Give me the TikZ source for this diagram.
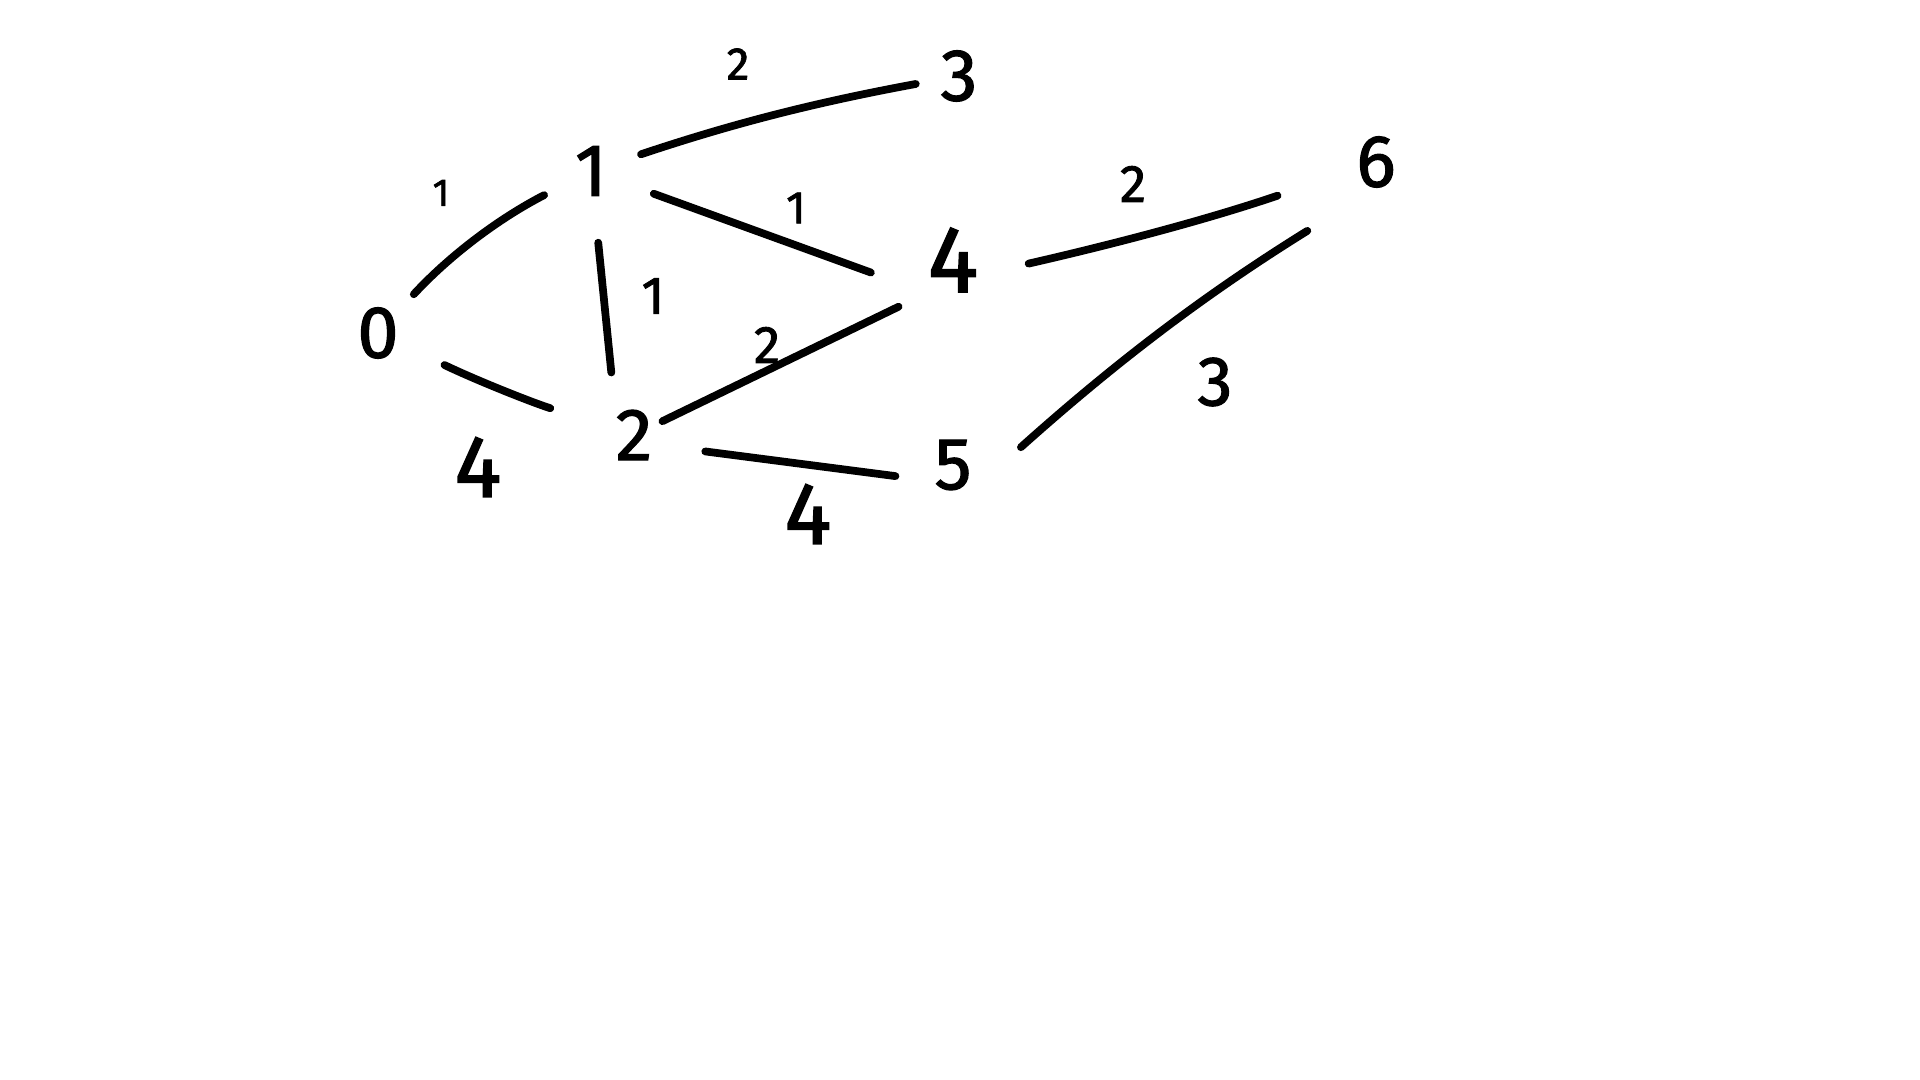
\documentclass[tikz,border=0pt]{standalone}
\usepackage{fontspec}
\newfontfamily\handfont{Fira Sans}[FakeBold=1.6]
\usetikzlibrary{positioning}

\tikzset{
  vertex/.style={inner sep=0pt, font=\handfont\fontsize{21}{21}\selectfont},
  weight/.style={inner sep=0pt, font=\handfont\fontsize{15}{15}\selectfont},
  bigw/.style={weight, font=\handfont\fontsize{25}{25}\selectfont},
  smallw/.style={weight, font=\handfont\fontsize{11}{11}\selectfont},
  edge/.style={line width=2.2pt, line cap=round}
}

\begin{document}
\begin{tikzpicture}
    \useasboundingbox (0,0) rectangle (19.2,10.8);

    % vertices
    \node[vertex] (n0) at (3.78,7.47) {0};
    \node[vertex] (n1) at (5.91,9.09) {1};
    \node[vertex] (n2) at (6.34,6.45) {2};
    \node[vertex] (n3) at (9.59,10.04) {3};
    \node[vertex, font=\handfont\fontsize{27}{27}\selectfont] (n4) at (9.53,8.20) {4};
    \node[vertex] (n5) at (9.53,6.15) {5};
    \node[vertex] (n6) at (13.76,9.18) {6};

    % edges
    \draw[edge, shorten <=15pt, shorten >=15pt] (n0.center) to[bend left=10] (n1.center);
    \draw[edge, shorten <=21pt, shorten >=25pt] (n0.center) to[bend right=4] (n2.center);
    \draw[edge, shorten <=15pt, shorten >=12.5pt] (n1.center) to[bend left=4] (n3.center);
    \draw[edge, shorten <=19pt, shorten >=17pt] (n1.center) -- (n4.south west);
    \draw[edge, shorten <=20.5pt, shorten >=10.5pt] (n1.center) -- (n2.north west);
    \draw[edge, shorten <=9pt, shorten >=9pt] (n2.center) -- (n4.south west);
    \draw[edge, shorten <=15pt, shorten >=11pt] (n2.-27) -- (n5.-140);
    \draw[edge, shorten <=14.5pt, shorten >=29.6pt] (n4.-30) to[bend right=3] (n6.center);
    \draw[edge, shorten <=18.6pt, shorten >=23pt] (n5.south east) to[bend left=5] (n6.south);

    % weights
    \node[smallw] (w01) at (4.41,8.87) {1};
    \node[bigw] (w02) at (4.78,6.13) {4};
    \node[weight, font=\handfont\fontsize{13}{13}\selectfont] (w13) at (7.38,10.16) {2};
    \node[weight, font=\handfont\fontsize{13}{13}\selectfont] (w14) at (7.96,8.72) {1};
    \node[weight] (w12) at (6.53,7.84) {1};
    \node[weight] (w24) at (7.67,7.35) {2};
    \node[bigw] (w25) at (8.08,5.66) {4};
    \node[weight] (w46) at (11.33,8.96) {2};
    \node[weight, font=\handfont\fontsize{20}{20}\selectfont] (w56) at (12.15,6.98) {3};
\end{tikzpicture}
\end{document}
